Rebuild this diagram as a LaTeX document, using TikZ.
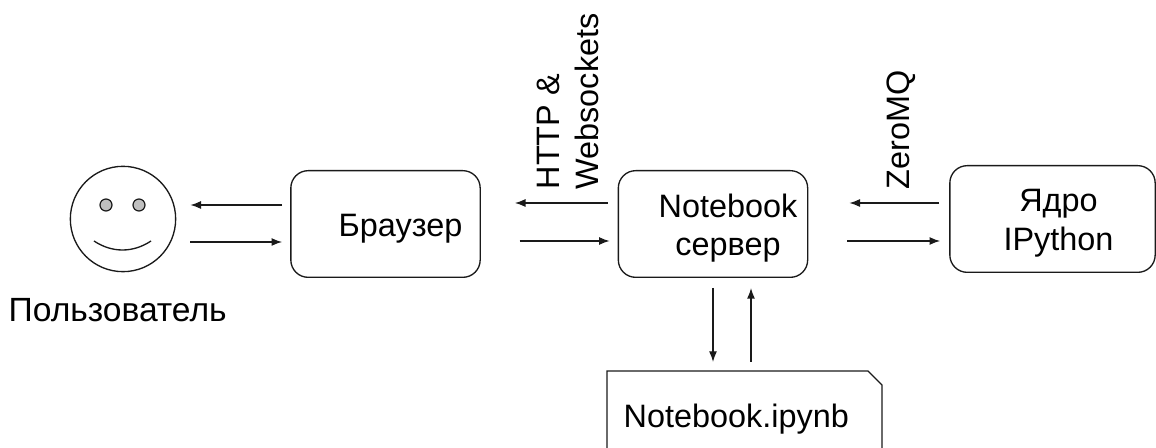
\documentclass[tikz,border=0pt]{standalone}
\usepackage{fontspec}
\setmainfont{Liberation Sans}
\usepackage{xcolor}
\usetikzlibrary{arrows.meta}
\usetikzlibrary{positioning}
\definecolor{lineblack}{HTML}{1A1A1A}
\tikzset{
  >={Latex[length=8pt,width=6pt]},
  block/.style={draw=lineblack, rectangle, rounded corners=13pt, minimum width=142pt, minimum height=80pt, line width=1pt},
  line/.style={draw=lineblack, ->, line width=1pt},
  label/.style={font=\fontsize{24.3pt}{29pt}\selectfont, align=center},
  eye/.style={draw=lineblack, circle, fill=gray!50, line width=0.9pt, minimum size=9pt, inner sep=0pt}
}

\begin{document}
\begin{tikzpicture}[x=0.75pt, y=-0.75pt]
    \useasboundingbox (0,0) rectangle (1156,448);

    % Place nodes
    \node [draw=lineblack, circle, line width=1pt, minimum size=79pt] (user) at (123,219) {};
    \node [block] (browser) at (385.5,224) {};
    \node [block] (server) at (713,224) {};
    \node [block, minimum width=154pt] (kernel) at (1052.5,219) {};
    \node [label, font=\fontsize{25.2pt}{29pt}\selectfont, below=16pt of user, xshift=-4pt] (username) {Пользователь};

    % Box texts
    \node [label] (browsertext) at (400.5,229) {Браузер};
    \node [label] (servertext) at (728,228) {Notebook\\сервер};
    \node [label] (kerneltext) at (1058.5,223) {Ядро\\IPython};

    % Face
    \node [eye] (lefteye) at (106,205) {};
    \node [eye] (righteye) at (139,205) {};
    \coordinate (smilestart) at (94,241);
    \coordinate (smileend) at (151,241);
    \draw [lineblack, line width=1pt] (smilestart) .. controls (112,253) and (133,253) .. (smileend);

    % Document with cut corner
    \coordinate (docsw) at (607,460);
    \coordinate (docnw) at (607,371);
    \coordinate (docne) at (868,371);
    \coordinate (doccut) at (882,385);
    \coordinate (docse) at (882,460);
    \draw [lineblack, line width=1pt] (docsw) -- (docnw) -- (docne) -- (doccut) -- (docse);
    \node [label, anchor=west] (notebook) at (619,419) {Notebook.ipynb};

    % Draw edges
    \path [line, shorten <=6pt, shorten >=10.5pt] ([yshift=14.25pt]browser.west) -- ([yshift=10.5pt]user.east);
    \path [line, shorten <=10.5pt, shorten >=6pt] ([yshift=-17.25pt]user.east) -- ([yshift=-13.5pt]browser.west);
    \path [line, shorten <=7.5pt, shorten >=25.5pt] ([yshift=15.75pt]server.west) -- ([yshift=15.75pt]browser.east);
    \path [line, shorten <=29pt, shorten >=6pt] ([yshift=-12.75pt]browser.east) -- ([yshift=-12.75pt]server.west);
    \path [line, shorten <=7.5pt, shorten >=30.75pt] ([yshift=12pt]kernel.west) -- ([yshift=15.75pt]server.east);
    \path [line, shorten <=29.25pt, shorten >=6.75pt] ([yshift=-12.75pt]server.east) -- ([yshift=-16.5pt]kernel.west);
    \path [line, shorten <=7.5pt, shorten >=6.75pt] (server.south) -- (docne -| server.south);
    \path [line, shorten <=6.75pt, shorten >=7.5pt] ([xshift=28.5pt]docne -| server.south) -- ([xshift=28.5pt]server.south);

    % Protocol labels
    \node [label, rotate=90, anchor=west, align=left] (http) at (568,194) {HTTP \&\\Websockets};
    \node [label, rotate=90, anchor=west] (zeromq) at (901,194) {ZeroMQ};
\end{tikzpicture}
\end{document}
